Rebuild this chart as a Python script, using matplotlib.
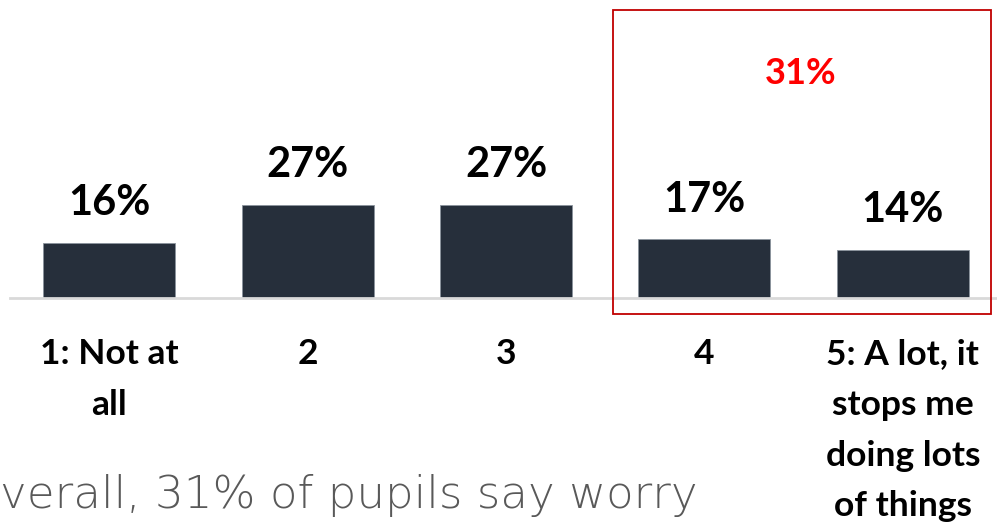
import matplotlib
matplotlib.use("Agg")
import matplotlib.pyplot as plt
from matplotlib.patches import Rectangle

# worry scale responses
categories = ["1: Not at\nall", "2", "3", "4", "5: A lot, it\nstops me\ndoing lots\nof things"]
values = [16, 27, 27, 17, 14]
highlight_total = 31
caption = "verall, 31% of pupils say worry"

bar_color = "#262f3b"
plt.rcParams['font.family'] = ['Lato', 'DejaVu Sans']

fig = plt.figure(figsize=(9.97, 5.25), dpi=100)
ax = fig.add_axes([10/997, 227/525, 992/997, 298/525])

x = list(range(len(values)))
ax.bar(x, values, width=0.665, color=bar_color, edgecolor="#8a939c", linewidth=0.6, zorder=2)
ax.set_xlim(-0.5, 4.5)
ax.set_ylim(0, 86.4)

for xi, v in zip(x, values):
    ax.annotate(f"{v}%", (xi, v), xytext=(0, 20), textcoords="offset points",
                ha="center", va="baseline", fontsize=30, fontweight="bold", color="black")

# box around the top two categories
ax.add_patch(Rectangle((2.538, -4.6), 1.905, 88.1, fill=False, edgecolor="#c00000",
                       linewidth=1.3, clip_on=False, zorder=3))
ax.text(3.485, 65.2, f"{highlight_total}%", ha="center", va="center", fontsize=26,
        fontweight="bold", color="#ff0000")

for s in ["top", "right", "left"]:
    ax.spines[s].set_visible(False)
ax.spines["bottom"].set_color("#d9d9d9")
ax.spines["bottom"].set_linewidth(2)
ax.set_yticks([])
ax.set_xticks(x)
ax.set_xticklabels(categories, fontsize=25.5, fontweight="bold", linespacing=1.72)
ax.tick_params(axis="x", length=0, pad=29)

fig.text(0.0, 17/525, caption, fontsize=32.5, fontweight="light", color="#595959",
         ha="left", va="baseline", family=["DejaVu Sans"])

fig.savefig("out.png", dpi=100)
